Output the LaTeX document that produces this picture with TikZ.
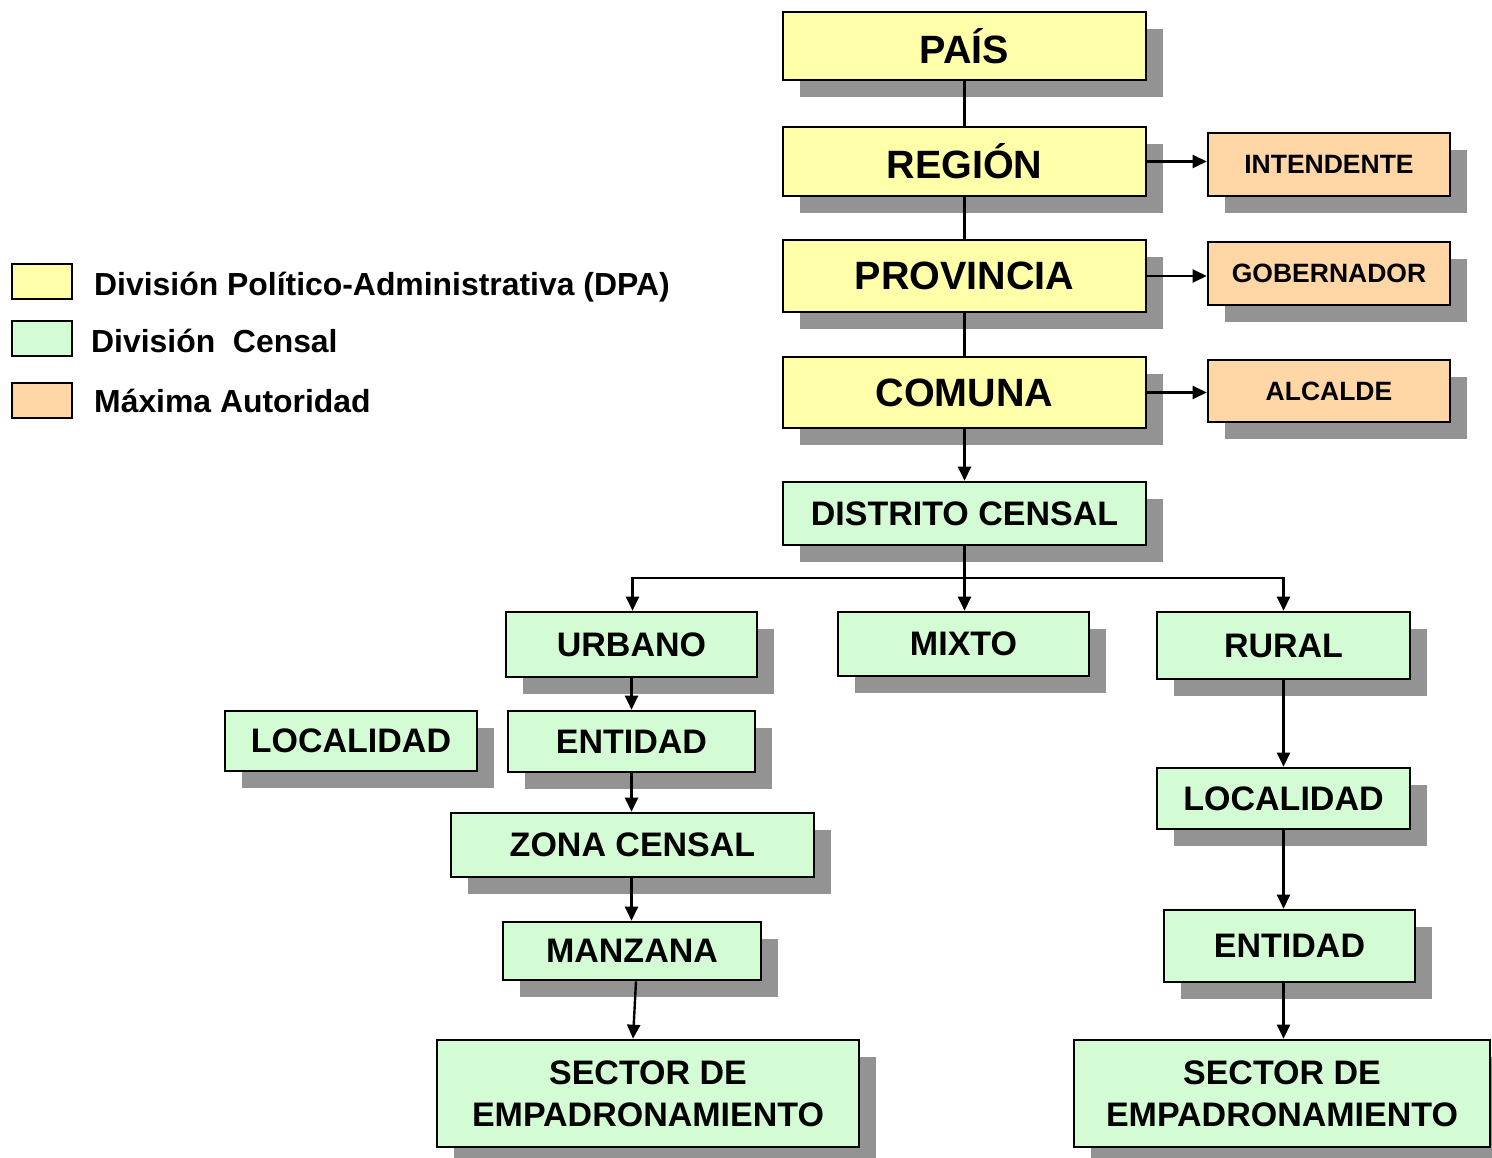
\documentclass[tikz,border=0pt]{standalone}
\usepackage{fontspec}
\setmainfont{Liberation Sans}
\usetikzlibrary{arrows.meta,shadows}
\definecolor{dpayellow}{RGB}{255,255,170}
\definecolor{censogreen}{RGB}{212,252,212}
\definecolor{autorange}{RGB}{255,214,166}
\definecolor{shadowgray}{RGB}{147,147,147}

\begin{document}
\begin{tikzpicture}[x=1pt,y=-1pt,
  every node/.style={font=\bfseries,align=center,inner sep=0pt},
  caja/.style={draw,line width=2.6pt,
    drop shadow={shadow xshift=17pt,shadow yshift=-17pt,fill=shadowgray,opacity=1}},
  dpa/.style={caja,fill=dpayellow,minimum width=363pt,font=\bfseries\fontsize{39.5}{44}\selectfont},
  censo/.style={caja,fill=censogreen,font=\bfseries\fontsize{34}{42}\selectfont},
  autoridad/.style={caja,fill=autorange,minimum width=242pt,minimum height=63pt,font=\bfseries\fontsize{26.5}{30}\selectfont},
  leyenda/.style={draw,line width=1.8pt,minimum width=60pt,minimum height=35pt},
  flecha/.style={line width=2.4pt,-{Triangle[length=14pt,width=13pt]}},
  linea/.style={line width=2.4pt}]
\useasboundingbox (0,0) rectangle (1492,1158);

% division politico-administrativa
\node[dpa,minimum height=68pt] (pais) at (964.5,46) {PAÍS};
\node[dpa,minimum height=69pt] (region) at (964.5,161.5) {REGIÓN};
\node[dpa,minimum height=72pt] (provincia) at (964.5,276) {PROVINCIA};
\node[dpa,minimum height=71pt] (comuna) at (964.5,392.5) {COMUNA};

% autoridades
\node[autoridad] (intendente) at (1329,164.5) {INTENDENTE};
\node[autoridad] (gobernador) at (1329,273.5) {GOBERNADOR};
\node[autoridad,minimum height=62pt] (alcalde) at (1329,391) {ALCALDE};

% division censal
\node[censo,minimum width=363pt,minimum height=63pt] (distrito) at (964.5,513.5) {DISTRITO CENSAL};
\node[censo,minimum width=251pt,minimum height=65pt] (urbano) at (631.5,644.5) {URBANO};
\node[censo,minimum width=251pt,minimum height=64pt] (mixto) at (963.5,644) {MIXTO};
\node[censo,minimum width=253pt,minimum height=67pt] (rural) at (1283.5,645.5) {RURAL};
\node[censo,minimum width=252pt,minimum height=60pt] (localidadU) at (351,741) {LOCALIDAD};
\node[censo,minimum width=247pt,minimum height=61pt] (entidadU) at (631.5,741.5) {ENTIDAD};
\node[censo,minimum width=363pt,minimum height=64pt] (zona) at (632.5,845) {ZONA CENSAL};
\node[censo,minimum width=258pt,minimum height=58pt] (manzana) at (632,951) {MANZANA};
\node[censo,minimum width=422pt,minimum height=107pt] (sectorU) at (648,1093.5) {SECTOR DE\\EMPADRONAMIENTO};
\node[censo,minimum width=253pt,minimum height=61pt] (localidadR) at (1283.5,798.5) {LOCALIDAD};
\node[censo,minimum width=251pt,minimum height=72pt] (entidadR) at (1289.5,946) {ENTIDAD};
\node[censo,minimum width=416pt,minimum height=107pt] (sectorR) at (1282,1093.5) {SECTOR DE\\EMPADRONAMIENTO};

% leyenda
\node[leyenda,fill=dpayellow] (ley1) at (42,281.5) {};
\node[leyenda,fill=censogreen] (ley2) at (42,338.5) {};
\node[leyenda,fill=autorange] (ley3) at (42,400.5) {};
\node[anchor=base west,font=\bfseries\fontsize{31.9}{36}\selectfont] (txt1) at (94,296) {División Político-Administrativa (DPA)};
\node[anchor=base west,font=\bfseries\fontsize{31.9}{36}\selectfont] (txt2) at (91,353) {División~~Censal};
\node[anchor=base west,font=\bfseries\fontsize{31.9}{36}\selectfont] (txt3) at (94,413) {Máxima Autoridad};

% conectores
\draw[linea] (pais) -- (region);
\draw[linea] (region) -- (provincia);
\draw[linea] (provincia) -- (comuna);
\draw[flecha] (comuna) -- (distrito);
\draw[flecha] (region.east) -- (region.east -| intendente.west);
\draw[flecha] (provincia.east) -- (provincia.east -| gobernador.west);
\draw[flecha] (comuna.east) -- (comuna.east -| alcalde.west);
\coordinate (rama) at (964.5,578);
\draw[linea] (distrito) -- (rama);
\draw[flecha] (rama) -- (mixto.north -| rama);
\draw[flecha] (rama) -| ([xshift=1pt]urbano.north);
\draw[flecha] (rama) -| (rural.north);
\draw[flecha] (urbano) -- (entidadU);
\draw[flecha] (entidadU) -- (entidadU |- zona.north);
\draw[flecha] (zona.south -| entidadU) -- (entidadU |- manzana.north);
\draw[flecha] ([xshift=4pt]manzana.south) -- ([xshift=1pt]manzana.south |- sectorU.north);
\draw[flecha] (rural) -- (localidadR);
\draw[flecha] (localidadR) -- (localidadR.south |- entidadR.north);
\draw[flecha] (localidadR.south |- entidadR.south) -- (localidadR.south |- sectorR.north);
\end{tikzpicture}
\end{document}
